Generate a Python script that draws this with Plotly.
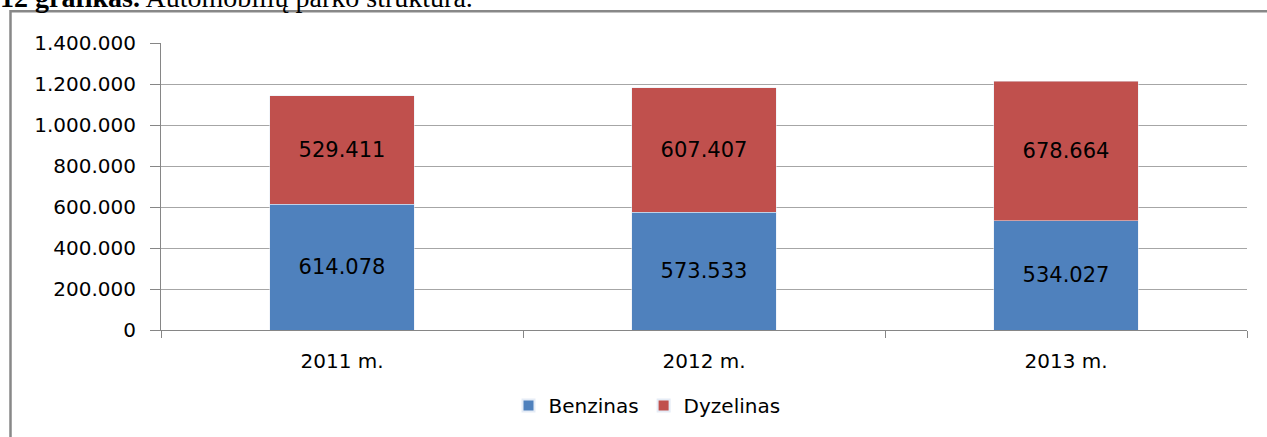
import plotly.graph_objects as go

categories = ["2011 m.", "2012 m.", "2013 m."]
benzinas = [614078, 573533, 534027]
dyzelinas = [529411, 607407, 678664]
y_ticks = [0, 200000, 400000, 600000, 800000, 1000000, 1200000, 1400000]

BLUE = "#4F81BD"
RED = "#C0504D"
FONT = "DejaVu Sans"

fig = go.Figure()
fig.add_trace(go.Bar(
    x=categories, y=benzinas, name="Benzinas", marker_color=BLUE,
    texttemplate="%{y:,d}", textposition="inside", insidetextanchor="middle",
    textfont=dict(family=FONT, size=21, color="#000000"), constraintext="none",
    hoverinfo="skip",
))
fig.add_trace(go.Bar(
    x=categories, y=dyzelinas, name="Dyzelinas", marker_color=RED,
    texttemplate="%{y:,d}", textposition="inside", insidetextanchor="middle",
    textfont=dict(family=FONT, size=21, color="#000000"), constraintext="none",
    hoverinfo="skip",
))

W, H = 1267, 437
ml, mr, mt, mb = 161, 20, 43, 105
pw = W - ml - mr
ph = H - mt - mb

def px_x(px):
    return (px - ml) / pw

def px_y(py):
    return 1 + (mt - py) / ph

fig.update_layout(
    width=W, height=H,
    margin=dict(l=ml, r=mr, t=mt, b=mb),
    barmode="stack", bargap=0.6,
    separators=",.",
    paper_bgcolor="white", plot_bgcolor="white",
    font=dict(family=FONT, size=20, color="#000000"),
    showlegend=True,
    legend=dict(
        orientation="h", x=px_x(647), xanchor="center", y=px_y(408), yanchor="middle",
        font=dict(family=FONT, size=20, color="#000000"),
        itemsizing="constant", traceorder="normal",
    ),
    xaxis=dict(
        type="category", showline=True, linecolor="#868686", linewidth=1,
        ticks="outside", tickson="boundaries", ticklen=7, tickcolor="#868686",
        showgrid=False, ticklabelstandoff=13,
        tickfont=dict(family=FONT, size=20, color="#000000"),
    ),
    yaxis=dict(
        range=[0, 1400000], tickvals=y_ticks, tickformat=",d",
        showline=True, linecolor="#868686", linewidth=1,
        ticks="outside", ticklen=10, tickcolor="#868686",
        showgrid=True, gridcolor="#A6A6A6", gridwidth=1,
        zeroline=False, ticklabelstandoff=10,
        tickfont=dict(family=FONT, size=20, color="#000000"),
    ),
    shapes=[
        dict(type="rect", xref="paper", yref="paper",
             x0=px_x(10.5), x1=px_x(1300), y0=px_y(500), y1=px_y(11),
             line=dict(color="#888888", width=2.5), fillcolor="rgba(0,0,0,0)", layer="below"),
    ],
    annotations=[
        dict(xref="paper", yref="paper", x=px_x(-2), y=px_y(15), xanchor="left", yanchor="bottom",
             showarrow=False,
             text="<b>12 grafikas.</b> Automobilių parko struktūra.",
             font=dict(family="Liberation Serif", size=28, color="#000000")),
    ],
)

fig.write_html(
    "out.html",
    config={"displayModeBar": False},
    post_script="document.body.style.margin='0';document.body.style.padding='0';document.body.style.overflow='hidden';",
)
